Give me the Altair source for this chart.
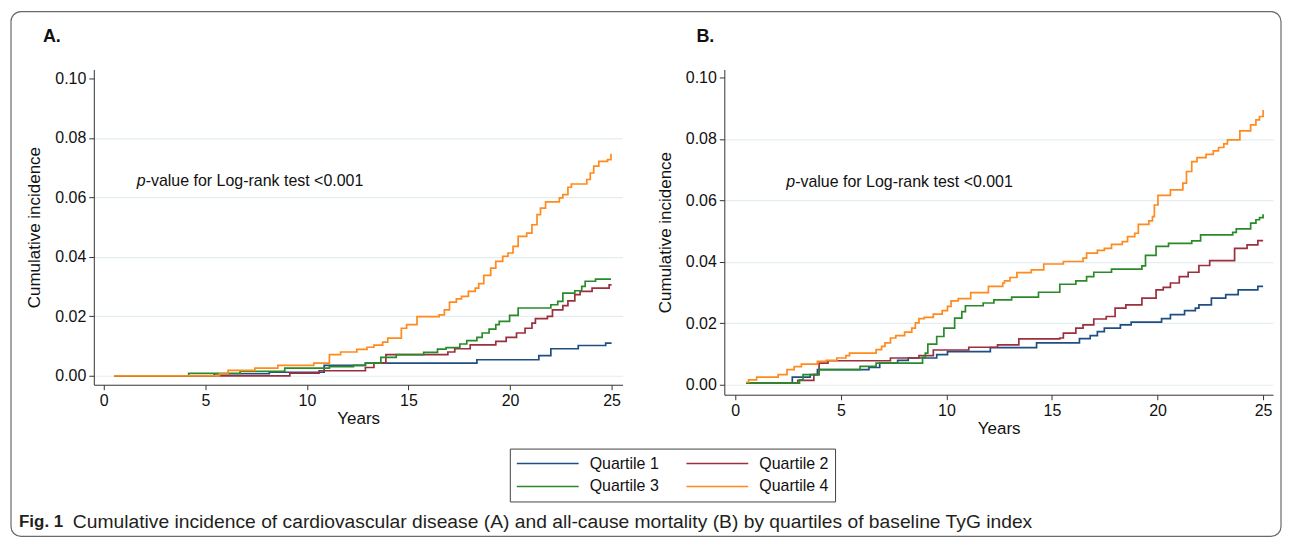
import altair as alt
import pandas as pd

QUARTILES = ["Quartile 1", "Quartile 2", "Quartile 3", "Quartile 4"]
COLORS = ["#1f4f82", "#9c2f3d", "#2a8a2a", "#ff8a1e"]
X_TICKS = [0, 5, 10, 15, 20, 25]
Y_TICKS = [0.0, 0.02, 0.04, 0.06, 0.08, 0.10]

# ---- Panel A: cardiovascular disease ----
A_Q1_YEARS = [0.51, 5.44, 8.15, 10.85, 12.88, 18.37, 21.42, 22.01, 23.36, 24.71, 25.0]
A_Q1_VALUES = [0.0, 0.0007, 0.0012, 0.0035, 0.0043, 0.0054, 0.0068, 0.0091, 0.0102, 0.0110, 0.0110]

A_Q2_YEARS = [0.51, 9.16, 10.60, 12.88, 13.30, 13.89, 16.94, 17.28, 18.04, 19.30, 19.81, 20.32,
              20.74, 21.08, 21.25, 21.84, 22.09, 22.60, 22.85, 23.19, 23.45, 24.04, 24.88, 25.0]
A_Q2_VALUES = [0.0, 0.0009, 0.0017, 0.0028, 0.0043, 0.0071, 0.0080, 0.0091, 0.0104, 0.0116, 0.0129, 0.0144,
               0.0160, 0.0177, 0.0192, 0.0200, 0.0222, 0.0236, 0.0252, 0.0273, 0.0284, 0.0295, 0.0306, 0.0306]

A_Q3_YEARS = [0.51, 4.18, 6.71, 8.91, 11.11, 12.29, 12.88, 13.64, 14.40, 15.75, 16.43, 16.85, 17.53, 17.87,
              18.37, 18.63, 18.97, 19.30, 19.47, 19.98, 20.40, 22.01, 22.35, 22.60, 23.19, 23.53, 23.70,
              24.21, 24.97]
A_Q3_VALUES = [0.0, 0.0008, 0.0015, 0.0026, 0.0031, 0.0035, 0.0043, 0.0062, 0.0071, 0.0079, 0.0090, 0.0095,
               0.0107, 0.0118, 0.0129, 0.0144, 0.0157, 0.0172, 0.0183, 0.0203, 0.0228, 0.0239, 0.0250,
               0.0278, 0.0286, 0.0301, 0.0318, 0.0325, 0.0325]

A_Q4_YEARS = [0.51, 5.70, 6.12, 7.44, 8.57, 10.34, 11.11, 11.66, 12.46, 12.96, 13.30, 13.73, 13.98, 14.65,
              14.91, 15.42, 16.51, 16.77, 17.02, 17.36, 17.61, 17.95, 18.29, 18.46, 18.71, 19.05, 19.30,
              19.64, 19.90, 20.15, 20.40, 20.82, 21.08, 21.33, 21.50, 21.75, 22.43, 22.60, 22.85, 23.02,
              23.78, 23.95, 24.12, 24.37, 24.80, 24.97]
A_Q4_VALUES = [0.0, 0.0007, 0.0018, 0.0026, 0.0035, 0.0043, 0.0071, 0.0080, 0.0089, 0.0096, 0.0103, 0.0113,
               0.0127, 0.0160, 0.0172, 0.0199, 0.0205, 0.0222, 0.0248, 0.0259, 0.0267, 0.0284, 0.0295,
               0.0310, 0.0338, 0.0362, 0.0385, 0.0402, 0.0413, 0.0435, 0.0469, 0.0480, 0.0508, 0.0542,
               0.0564, 0.0585, 0.0598, 0.0609, 0.0634, 0.0645, 0.0660, 0.0682, 0.0705, 0.0721, 0.0727,
               0.0747]

# ---- Panel B: all-cause mortality ----
B_Q1_YEARS = [0.51, 2.70, 3.55, 3.89, 6.33, 6.84, 7.69, 8.19, 9.54, 10.05, 12.08, 14.27, 16.30, 16.81,
              17.15, 17.48, 18.24, 18.75, 20.19, 20.61, 21.28, 21.79, 21.96, 22.55, 23.23, 23.82, 24.75, 25.0]
B_Q1_VALUES = [0.0005, 0.0025, 0.0033, 0.0049, 0.0056, 0.0070, 0.0079, 0.0087, 0.0098, 0.0108, 0.0121,
               0.0136, 0.0150, 0.0160, 0.0173, 0.0184, 0.0195, 0.0204, 0.0215, 0.0228, 0.0241, 0.0249,
               0.0260, 0.0282, 0.0293, 0.0309, 0.0320, 0.0320]

B_Q2_YEARS = [0.51, 2.96, 3.72, 3.97, 4.39, 7.35, 8.70, 9.38, 11.06, 12.42, 13.43, 15.37, 15.54, 16.13,
              16.47, 16.98, 17.57, 17.99, 18.50, 19.26, 19.93, 20.27, 20.61, 21.03, 21.45, 21.96, 22.47,
              23.65, 24.24, 24.75, 25.0]
B_Q2_VALUES = [0.0005, 0.0014, 0.0033, 0.0070, 0.0078, 0.0087, 0.0095, 0.0113, 0.0122, 0.0130, 0.0149,
               0.0152, 0.0168, 0.0184, 0.0195, 0.0214, 0.0222, 0.0249, 0.0260, 0.0282, 0.0309, 0.0317,
               0.0331, 0.0352, 0.0366, 0.0388, 0.0404, 0.0444, 0.0455, 0.0469, 0.0469]

B_Q3_YEARS = [0.51, 3.04, 3.21, 3.97, 5.91, 6.67, 8.87, 9.00, 9.12, 9.54, 9.88, 10.39, 10.73, 10.90, 11.74,
              12.25, 13.09, 14.36, 15.37, 16.13, 16.64, 16.98, 17.82, 19.26, 19.43, 19.93, 20.52, 21.62,
              22.04, 23.56, 23.73, 24.41, 24.66, 24.83, 25.0]
B_Q3_VALUES = [0.0005, 0.0016, 0.0033, 0.0049, 0.0060, 0.0070, 0.0089, 0.0103, 0.0132, 0.0157, 0.0184,
               0.0217, 0.0238, 0.0257, 0.0266, 0.0276, 0.0285, 0.0301, 0.0327, 0.0338, 0.0352, 0.0366,
               0.0376, 0.0387, 0.0421, 0.0450, 0.0460, 0.0468, 0.0488, 0.0496, 0.0507, 0.0526, 0.0537,
               0.0544, 0.0555]

B_Q4_YEARS = [0.51, 0.63, 1.01, 2.03, 2.45, 2.79, 3.13, 3.89, 4.31, 4.81, 5.24, 5.41, 6.67, 6.93, 7.09,
              7.35, 7.60, 8.02, 8.36, 8.53, 8.70, 8.95, 9.38, 9.80, 10.05, 10.22, 10.56, 11.15, 11.99,
              12.67, 12.75, 13.01, 13.34, 14.02, 14.61, 15.54, 16.47, 16.64, 17.15, 17.48, 17.82, 18.33,
              18.58, 18.92, 19.09, 19.59, 19.76, 19.85, 20.02, 20.61, 21.20, 21.37, 21.62, 21.87, 22.30,
              22.64, 22.89, 23.14, 23.31, 23.90, 24.41, 24.66, 24.83, 25.0]
B_Q4_VALUES = [0.0008, 0.0016, 0.0025, 0.0033, 0.0049, 0.0059, 0.0067, 0.0076, 0.0079, 0.0087, 0.0095,
               0.0103, 0.0114, 0.0125, 0.0136, 0.0152, 0.0160, 0.0171, 0.0184, 0.0201, 0.0215, 0.0219,
               0.0230, 0.0241, 0.0255, 0.0273, 0.0280, 0.0300, 0.0320, 0.0331, 0.0338, 0.0349, 0.0365,
               0.0374, 0.0393, 0.0401, 0.0412, 0.0428, 0.0437, 0.0444, 0.0457, 0.0466, 0.0482, 0.0493,
               0.0522, 0.0533, 0.0547, 0.0585, 0.0616, 0.0634, 0.0656, 0.0694, 0.0726, 0.0739, 0.0750,
               0.0761, 0.0772, 0.0784, 0.0797, 0.0826, 0.0846, 0.0862, 0.0873, 0.0894]

P_TEXT = "-value for Log-rank test <0.001"
CAPTION_BOLD = "Fig. 1"
CAPTION = ("Cumulative incidence of cardiovascular disease (A) and all-cause mortality (B) "
           "by quartiles of baseline TyG index")

FONT = "Liberation Sans, Arial, Helvetica, sans-serif"
TEXT_COLOR = "#111111"


def build_df(series):
    rows = []
    for q, years, vals in series:
        assert len(years) == len(vals), q
        for y, v in zip(years, vals):
            rows.append({"quartile": q, "year": y, "value": v})
    return pd.DataFrame(rows)


df_a = build_df([(QUARTILES[0], A_Q1_YEARS, A_Q1_VALUES), (QUARTILES[1], A_Q2_YEARS, A_Q2_VALUES),
                 (QUARTILES[2], A_Q3_YEARS, A_Q3_VALUES), (QUARTILES[3], A_Q4_YEARS, A_Q4_VALUES)])
df_b = build_df([(QUARTILES[0], B_Q1_YEARS, B_Q1_VALUES), (QUARTILES[1], B_Q2_YEARS, B_Q2_VALUES),
                 (QUARTILES[2], B_Q3_YEARS, B_Q3_VALUES), (QUARTILES[3], B_Q4_YEARS, B_Q4_VALUES)])

one = pd.DataFrame({"k": [0]})

legend = alt.Legend(
    orient="none", legendX=417, legendY=380, columns=2, direction="horizontal", title=None,
    symbolType="stroke", symbolSize=3844, symbolStrokeWidth=1.5, clipHeight=18,
    rowPadding=5, columnPadding=26, labelOffset=10, padding=6,
    strokeColor="#444444", fillColor="white",
    labelFont=FONT, labelFontSize=16, labelColor=TEXT_COLOR,
)


def panel(df, width, height, xdom, ydom, p_pos, label, label_xy, extra=None):
    xs = alt.Scale(domain=xdom, nice=False, zero=False)
    ys = alt.Scale(domain=ydom, nice=False, zero=False)
    lines = alt.Chart(df).mark_line(interpolate="step-after", strokeWidth=1.7).encode(
        x=alt.X("year:Q", scale=xs,
                axis=alt.Axis(values=X_TICKS, format="d", title="Years", grid=False)),
        y=alt.Y("value:Q", scale=ys,
                axis=alt.Axis(values=Y_TICKS, format=".2f", title="Cumulative incidence",
                              grid=True, gridColor="#e4eef1", gridWidth=1.2,
                              gridOpacity=alt.condition("datum.value > 0.09", alt.value(0), alt.value(1)))),
        color=alt.Color("quartile:N", scale=alt.Scale(domain=QUARTILES, range=COLORS), legend=legend),
    )
    p1 = alt.Chart(one).mark_text(align="left", baseline="middle", fontStyle="italic",
                                  font=FONT, fontSize=16, color=TEXT_COLOR).encode(
        x=alt.datum(p_pos[0]), y=alt.datum(p_pos[1]), text=alt.value("p"))
    p2 = alt.Chart(one).mark_text(align="left", baseline="middle", dx=9,
                                  font=FONT, fontSize=16, color=TEXT_COLOR).encode(
        x=alt.datum(p_pos[0]), y=alt.datum(p_pos[1]), text=alt.value(P_TEXT))
    lab = alt.Chart(one).mark_text(align="left", baseline="middle", fontWeight="bold",
                                   font=FONT, fontSize=18, color=TEXT_COLOR).encode(
        x=alt.value(label_xy[0]), y=alt.value(label_xy[1]), text=alt.value(label))
    layers = [lines, p1, p2, lab] + (extra or [])
    return alt.layer(*layers).properties(width=width, height=height)


# decorations placed relative to panel A's plot area (page offset 93, 68)
frame = alt.Chart(one).mark_rect(fill="white", fillOpacity=0, stroke="#6a6a6a", strokeWidth=1.2,
                                 cornerRadius=10).encode(
    x=alt.value(-83), x2=alt.value(1190), y=alt.value(-58), y2=alt.value(468))
cap1 = alt.Chart(one).mark_text(align="left", baseline="middle", fontWeight="bold",
                                font=FONT, fontSize=17, color="#231f20").encode(
    x=alt.value(-75), y=alt.value(454), text=alt.value(CAPTION_BOLD))
cap2 = alt.Chart(one).mark_text(align="left", baseline="middle",
                                font=FONT, fontSize=19.3, color="#231f20").encode(
    x=alt.value(-21), y=alt.value(454), text=alt.value(CAPTION))

panel_a = panel(df_a, 530, 316, [-0.49, 25.54], [-0.0030, 0.1030], (1.62, 0.0654), "A.", (-51, -33),
                extra=[frame, cap1, cap2])
panel_b = panel(df_b, 550, 326, [-0.52, 25.47], [-0.00325, 0.1026], (2.41, 0.0659), "B.", (-28, -33))

chart = alt.hconcat(panel_a, panel_b, spacing=102, bounds="flush").properties(
    padding=2, background="white"
).configure_view(stroke=None).configure_axis(
    domainColor="#333333", domainWidth=1, tickColor="#333333", tickSize=5, tickWidth=1,
    labelFont=FONT, labelFontSize=16, labelColor=TEXT_COLOR, labelPadding=3,
    titleFont=FONT, titleFontSize=17, titleFontWeight="normal", titleColor=TEXT_COLOR,
).configure_axisY(titlePadding=11, labelPadding=3).configure_axisX(titlePadding=2)

chart.save("out.html", embed_options={"renderer": "svg", "actions": False})
